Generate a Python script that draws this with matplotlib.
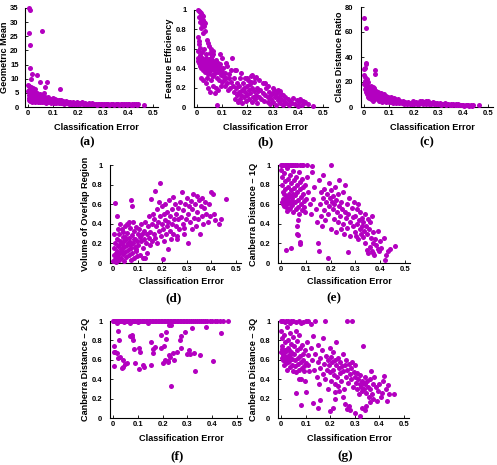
import matplotlib
matplotlib.use("Agg")
import matplotlib.pyplot as plt

W, H = 497, 465
COLOR = "#B300C0"

x_ticks = [0, 0.1, 0.2, 0.3, 0.4, 0.5]
x_tick_labels = ["0", "0.1", "0.2", "0.3", "0.4", "0.5"]
x_label = "Classification Error"

a_ticks = [0, 5, 10, 15, 20, 25, 30, 35]
a_tick_labels = ["0", "5", "10", "15", "20", "25", "30", "35"]
c_ticks = [0, 20, 40, 60, 80]
c_tick_labels = ["0", "20", "40", "60", "80"]
unit_ticks = [0, 0.2, 0.4, 0.6, 0.8, 1.0]
unit_tick_labels = ["0", "0.2", "0.4", "0.6", "0.8", "1"]

y_labels = {
    "a": "Geometric Mean",
    "b": "Feature Efficiency",
    "c": "Class Distance Ratio",
    "d": "Volume of Overlap Region",
    "e": "Canberra Distance \u2013 1Q",
    "f": "Canberra Distance \u2013 2Q",
    "g": "Canberra Distance \u2013 3Q",
}
panel_letters = ["(a)", "(b)", "(c)", "(d)", "(e)", "(f)", "(g)"]

# (a) Geometric Mean vs classification error
a_pts = [
    (0.004, 35), (0.009, 34.2), (0.004, 26), (0.008, 21.8), (0.057, 26.8), (0.007, 13.8),
    (0.013, 10), (0.017, 11.8), (0.037, 11.2), (0.047, 8.7), (0.077, 8.7), (0.067, 7.1),
    (0.128, 6.5), (0.0, 7.9), (0.01, 6.6), (0.027, 6.4), (0.063, 4.9), (0.464, 0.8),
    (0.003, 7.5), (0.012, 7.2), (0.018, 6.8),
    (0.000, 5.5), (0.002, 4.2), (0.003, 3.1), (0.004, 6.0), (0.005, 2.5), (0.006, 4.8),
    (0.007, 3.6), (0.008, 2.0), (0.009, 5.2), (0.010, 3.0), (0.011, 4.4), (0.012, 2.4),
    (0.013, 6.2), (0.014, 3.7), (0.015, 1.8), (0.016, 5.0), (0.018, 2.9), (0.019, 4.1),
    (0.020, 3.3), (0.021, 2.2), (0.022, 5.6), (0.024, 3.9), (0.025, 2.6), (0.026, 4.6),
    (0.028, 1.9), (0.029, 3.4), (0.030, 2.8), (0.032, 4.3), (0.033, 2.1), (0.034, 3.6),
    (0.036, 5.1), (0.037, 2.5), (0.038, 3.0), (0.040, 4.0), (0.041, 1.7), (0.042, 2.7),
    (0.044, 3.5), (0.045, 2.3), (0.046, 4.6), (0.048, 3.1), (0.049, 1.9), (0.050, 2.6),
    (0.052, 3.8), (0.053, 2.2), (0.055, 3.0), (0.056, 1.8), (0.058, 4.2), (0.060, 2.5),
    (0.061, 3.4), (0.063, 1.6), (0.064, 2.9), (0.066, 3.7), (0.067, 2.1), (0.069, 2.7),
    (0.070, 1.5), (0.072, 3.2), (0.073, 2.4), (0.075, 1.9), (0.076, 2.8), (0.078, 3.5),
    (0.080, 2.2), (0.081, 1.6), (0.083, 2.6), (0.085, 3.0), (0.086, 1.8), (0.088, 2.3),
    (0.090, 2.9), (0.092, 1.5), (0.093, 2.1), (0.095, 2.6), (0.097, 1.7), (0.098, 3.1),
    (0.100, 2.0), (0.102, 2.4), (0.104, 1.5), (0.106, 2.8), (0.108, 1.9), (0.110, 2.2),
    (0.112, 1.4), (0.114, 2.6), (0.116, 1.8), (0.118, 2.1), (0.120, 1.6), (0.122, 2.4),
    (0.124, 1.3), (0.126, 2.0), (0.128, 1.7), (0.130, 2.3), (0.133, 1.5), (0.135, 1.9),
    (0.137, 1.3), (0.140, 2.1), (0.142, 1.6), (0.145, 1.2), (0.147, 1.8), (0.150, 1.4),
    (0.153, 2.0), (0.156, 1.3), (0.159, 1.7), (0.162, 1.1), (0.165, 1.5), (0.168, 1.9),
    (0.171, 1.2), (0.174, 1.4), (0.177, 1.0), (0.180, 1.6), (0.183, 1.2), (0.186, 1.4),
    (0.190, 1.0), (0.193, 1.3), (0.196, 1.7), (0.200, 1.1), (0.203, 1.4), (0.206, 0.9),
    (0.210, 1.3), (0.214, 1.6), (0.218, 1.0), (0.222, 1.2), (0.226, 1.5), (0.230, 0.9),
    (0.234, 1.2), (0.238, 1.0), (0.242, 1.3), (0.246, 0.9), (0.250, 1.1), (0.255, 1.3),
    (0.260, 0.9), (0.265, 1.1), (0.270, 1.2), (0.275, 0.8), (0.280, 1.0), (0.285, 1.2),
    (0.290, 0.9), (0.295, 1.1), (0.300, 0.8), (0.305, 1.0), (0.310, 1.2), (0.315, 0.9),
    (0.320, 1.0), (0.325, 0.8), (0.330, 1.1), (0.335, 0.9), (0.340, 1.0), (0.345, 0.8),
    (0.350, 1.0), (0.355, 0.9), (0.360, 1.1), (0.365, 0.8), (0.370, 0.9), (0.375, 1.0),
    (0.380, 0.8), (0.385, 0.9), (0.390, 1.0), (0.395, 0.8), (0.400, 0.9), (0.405, 1.0),
    (0.410, 0.8), (0.415, 0.9), (0.420, 0.8), (0.425, 1.0), (0.430, 0.9), (0.435, 0.8),
    (0.440, 0.9),
]

# (b) Feature Efficiency
b_pts = [
    (0.003, 1.0), (0.007, 0.99), (0.011, 0.98), (0.014, 0.97), (0.018, 0.95), (0.022, 0.94),
    (0.009, 0.93), (0.016, 0.91), (0.024, 0.9), (0.013, 0.88), (0.028, 0.88), (0.033, 0.87),
    (0.020, 0.86), (0.026, 0.83), (0.017, 0.81), (0.030, 0.78), (0.022, 0.76),
    (0.005, 0.72), (0.008, 0.68), (0.006, 0.65), (0.012, 0.61), (0.004, 0.58), (0.018, 0.57),
    (0.010, 0.54), (0.038, 0.69), (0.042, 0.66), (0.046, 0.63), (0.055, 0.6), (0.062, 0.58),
    (0.050, 0.56), (0.065, 0.55), (0.058, 0.53), (0.035, 0.55), (0.028, 0.6),
    (0.002, 0.5), (0.004, 0.47), (0.006, 0.45), (0.008, 0.49), (0.010, 0.42), (0.012, 0.48),
    (0.014, 0.44), (0.016, 0.4), (0.018, 0.5), (0.020, 0.46), (0.022, 0.43), (0.024, 0.38),
    (0.026, 0.48), (0.028, 0.41), (0.030, 0.45), (0.032, 0.36), (0.034, 0.5), (0.036, 0.43),
    (0.038, 0.47), (0.040, 0.39), (0.042, 0.44), (0.044, 0.34), (0.046, 0.49), (0.048, 0.41),
    (0.050, 0.46), (0.052, 0.37), (0.054, 0.43), (0.056, 0.5), (0.058, 0.4), (0.060, 0.45),
    (0.062, 0.32), (0.064, 0.47), (0.066, 0.42), (0.068, 0.38), (0.070, 0.44), (0.072, 0.35),
    (0.074, 0.41), (0.076, 0.48), (0.078, 0.3), (0.080, 0.4), (0.082, 0.45), (0.084, 0.36),
    (0.086, 0.42), (0.088, 0.28), (0.090, 0.38), (0.092, 0.44), (0.094, 0.33), (0.096, 0.4),
    (0.098, 0.26), (0.100, 0.36),
    (0.015, 0.3), (0.025, 0.28), (0.035, 0.25), (0.045, 0.2), (0.05, 0.15), (0.055, 0.28),
    (0.065, 0.22), (0.07, 0.14), (0.075, 0.2), (0.08, 0.02), (0.085, 0.18), (0.095, 0.22),
    (0.06, 0.33), (0.04, 0.3),
    (0.102, 0.32), (0.105, 0.4), (0.108, 0.28), (0.11, 0.35), (0.112, 0.22), (0.115, 0.3),
    (0.118, 0.42), (0.12, 0.25), (0.122, 0.18), (0.125, 0.34), (0.128, 0.3), (0.13, 0.2),
    (0.133, 0.26), (0.136, 0.38), (0.14, 0.5), (0.142, 0.22), (0.145, 0.3), (0.148, 0.15),
    (0.15, 0.38), (0.1, 0.5), (0.09, 0.55), (0.115, 0.45),
    (0.152, 0.08), (0.155, 0.2), (0.158, 0.12), (0.16, 0.25), (0.162, 0.05), (0.165, 0.15),
    (0.168, 0.22), (0.17, 0.08), (0.172, 0.3), (0.175, 0.12), (0.178, 0.18), (0.18, 0.04),
    (0.182, 0.25), (0.185, 0.1), (0.188, 0.2), (0.19, 0.15), (0.192, 0.3), (0.195, 0.06),
    (0.198, 0.22), (0.2, 0.12), (0.202, 0.28), (0.205, 0.18), (0.208, 0.08), (0.21, 0.24),
    (0.212, 0.14), (0.215, 0.32), (0.218, 0.05), (0.22, 0.2), (0.222, 0.1), (0.225, 0.16),
    (0.228, 0.26), (0.23, 0.08), (0.232, 0.3), (0.235, 0.12), (0.238, 0.2), (0.24, 0.04),
    (0.242, 0.16), (0.245, 0.28), (0.248, 0.1), (0.25, 0.18), (0.255, 0.08), (0.26, 0.14),
    (0.262, 0.25), (0.265, 0.06), (0.27, 0.12), (0.275, 0.2), (0.28, 0.05), (0.282, 0.1),
    (0.285, 0.15), (0.29, 0.03), (0.292, 0.12), (0.295, 0.08), (0.3, 0.14), (0.302, 0.05),
    (0.305, 0.18), (0.31, 0.1), (0.312, 0.02), (0.315, 0.13), (0.32, 0.07), (0.322, 0.16),
    (0.325, 0.1), (0.33, 0.04), (0.332, 0.13), (0.335, 0.08), (0.34, 0.12), (0.342, 0.02),
    (0.345, 0.06), (0.35, 0.1), (0.355, 0.04), (0.36, 0.08), (0.365, 0.02), (0.37, 0.06),
    (0.375, 0.04), (0.38, 0.09), (0.39, 0.03), (0.395, 0.07), (0.4, 0.01), (0.405, 0.05),
    (0.41, 0.08), (0.415, 0.02), (0.42, 0.06), (0.425, 0.04), (0.43, 0.05), (0.44, 0.03),
    (0.46, 0.01),
    (0.155, 0.38), (0.175, 0.35), (0.2, 0.3), (0.22, 0.33), (0.235, 0.31), (0.27, 0.25),
    (0.215, 0.26), (0.28, 0.22), (0.3, 0.2), (0.32, 0.18), (0.33, 0.17),
]

# (c) Class Distance Ratio
c_pts = [
    (0.002, 71.5), (0.01, 63.5), (0.01, 35), (0.008, 34), (0.004, 31), (0.002, 30),
    (0.046, 29.5), (0.045, 26), (0.001, 25.5), (0.006, 24), (0.012, 22), (0.016, 20),
    (0.03, 17), (0.035, 16), (0.04, 15),
    (0.002, 18), (0.004, 14), (0.005, 21), (0.007, 12), (0.008, 16), (0.010, 19),
    (0.011, 10), (0.013, 15), (0.014, 13), (0.016, 8), (0.018, 17), (0.019, 11),
    (0.021, 14), (0.022, 7), (0.024, 12), (0.026, 9), (0.027, 15), (0.029, 6),
    (0.031, 11), (0.032, 13), (0.034, 8), (0.036, 10), (0.037, 5), (0.039, 12),
    (0.041, 9), (0.042, 14), (0.044, 7), (0.046, 11), (0.048, 8), (0.049, 13),
    (0.051, 10), (0.053, 6), (0.055, 9), (0.057, 12), (0.059, 7), (0.061, 5),
    (0.063, 10), (0.065, 8), (0.067, 11), (0.069, 6), (0.071, 9), (0.073, 4),
    (0.075, 8), (0.077, 7), (0.079, 10), (0.081, 5), (0.083, 8), (0.085, 6),
    (0.087, 9), (0.089, 4), (0.091, 7), (0.093, 5), (0.095, 8), (0.097, 6), (0.099, 4),
    (0.101, 7), (0.104, 5), (0.107, 8), (0.110, 4), (0.112, 6), (0.115, 3),
    (0.118, 5), (0.121, 7), (0.124, 4), (0.127, 6), (0.130, 3), (0.133, 5),
    (0.136, 4), (0.139, 6), (0.142, 3), (0.145, 5), (0.148, 4),
    (0.152, 3), (0.156, 5), (0.16, 2.5), (0.164, 4), (0.168, 3), (0.172, 2),
    (0.176, 4), (0.18, 3), (0.184, 2), (0.188, 3.5), (0.192, 2.5), (0.196, 4.5),
    (0.2, 2), (0.204, 3), (0.208, 4), (0.212, 2.5), (0.216, 3.5), (0.22, 2),
    (0.224, 4.5), (0.228, 3), (0.232, 5), (0.236, 2.5), (0.24, 4), (0.244, 3),
    (0.248, 5), (0.252, 2), (0.256, 3.5), (0.26, 4.5), (0.264, 2.5), (0.268, 3.5),
    (0.272, 2), (0.276, 3), (0.28, 4), (0.284, 2), (0.288, 3), (0.292, 2.5), (0.296, 3.5),
    (0.3, 2), (0.305, 3), (0.31, 1.5), (0.315, 2.5), (0.32, 2), (0.325, 3),
    (0.33, 1.5), (0.335, 2.5), (0.34, 2), (0.345, 1.5), (0.35, 2.5), (0.355, 1.8),
    (0.36, 2.2), (0.365, 1.5), (0.37, 2), (0.375, 1.2), (0.38, 2), (0.385, 1.5),
    (0.39, 1.8), (0.395, 1.2), (0.4, 1.6), (0.405, 1), (0.41, 1.8), (0.415, 1.2),
    (0.42, 1.5), (0.425, 1), (0.43, 1.4), (0.435, 0.8), (0.44, 1.2), (0.462, 1.5),
]

# (d) Volume of Overlap Region
d_pts = [
    (0.002, 0.02), (0.004, 0.08), (0.006, 0.15), (0.008, 0.04), (0.010, 0.2), (0.012, 0.1),
    (0.014, 0.01), (0.016, 0.12), (0.018, 0.25), (0.020, 0.06), (0.022, 0.17), (0.024, 0.3),
    (0.026, 0.03), (0.028, 0.1), (0.030, 0.22), (0.032, 0.14), (0.034, 0.05), (0.036, 0.35),
    (0.038, 0.19), (0.040, 0.09), (0.042, 0.27), (0.044, 0.02), (0.046, 0.16), (0.048, 0.38),
    (0.050, 0.11), (0.052, 0.24), (0.054, 0.06), (0.056, 0.31), (0.058, 0.18), (0.060, 0.4),
    (0.062, 0.13), (0.064, 0.26), (0.066, 0.08), (0.068, 0.21), (0.070, 0.36), (0.072, 0.03),
    (0.074, 0.15), (0.076, 0.29), (0.078, 0.1), (0.080, 0.42), (0.082, 0.2), (0.084, 0.05),
    (0.086, 0.33), (0.088, 0.16), (0.090, 0.25), (0.092, 0.12), (0.094, 0.37), (0.096, 0.22),
    (0.098, 0.07), (0.100, 0.3),
    (0.005, 0.3), (0.01, 0.61), (0.015, 0.48), (0.02, 0.35), (0.03, 0.4), (0.04, 0.32),
    (0.05, 0.27), (0.06, 0.2), (0.07, 0.18), (0.075, 0.64), (0.078, 0.58), (0.065, 0.42),
    (0.055, 0.4), (0.045, 0.22), (0.025, 0.18), (0.015, 0.08), (0.035, 0.12), (0.085, 0.24),
    (0.095, 0.14),
    (0.102, 0.18), (0.105, 0.35), (0.108, 0.27), (0.11, 0.08), (0.112, 0.4), (0.115, 0.22),
    (0.118, 0.3), (0.12, 0.05), (0.122, 0.15), (0.125, 0.33), (0.128, 0.25), (0.13, 0.05),
    (0.132, 0.42), (0.135, 0.2), (0.138, 0.3), (0.14, 0.1), (0.142, 0.38), (0.145, 0.26),
    (0.148, 0.48), (0.15, 0.18), (0.152, 0.32), (0.155, 0.65), (0.158, 0.4), (0.16, 0.22),
    (0.162, 0.5), (0.165, 0.3), (0.168, 0.45), (0.17, 0.73), (0.172, 0.26), (0.175, 0.38),
    (0.178, 0.55), (0.18, 0.2), (0.182, 0.42), (0.185, 0.62), (0.188, 0.33), (0.19, 0.82),
    (0.192, 0.48), (0.195, 0.28), (0.198, 0.4), (0.2, 0.58), (0.202, 0.04), (0.204, 0.35),
    (0.206, 0.5), (0.208, 0.22), (0.21, 0.44), (0.212, 0.6), (0.215, 0.3), (0.218, 0.38),
    (0.22, 0.52), (0.222, 0.14), (0.225, 0.42), (0.228, 0.64), (0.23, 0.33), (0.232, 0.48),
    (0.235, 0.25), (0.238, 0.55), (0.24, 0.4), (0.242, 0.67), (0.245, 0.3), (0.248, 0.45),
    (0.25, 0.6),
    (0.255, 0.38), (0.258, 0.5), (0.26, 0.28), (0.263, 0.45), (0.266, 0.56), (0.27, 0.35),
    (0.273, 0.62), (0.276, 0.47), (0.28, 0.72), (0.283, 0.4), (0.286, 0.54), (0.29, 0.3),
    (0.293, 0.6), (0.296, 0.45), (0.3, 0.66), (0.303, 0.2), (0.306, 0.5), (0.31, 0.58),
    (0.313, 0.42), (0.316, 0.63), (0.32, 0.35), (0.323, 0.55), (0.326, 0.7), (0.33, 0.46),
    (0.333, 0.6), (0.336, 0.38), (0.34, 0.68), (0.343, 0.52), (0.346, 0.45), (0.35, 0.64),
    (0.353, 0.3), (0.356, 0.58), (0.36, 0.48), (0.363, 0.66), (0.366, 0.4), (0.37, 0.56),
    (0.375, 0.62), (0.38, 0.5), (0.385, 0.42), (0.39, 0.6), (0.395, 0.48), (0.4, 0.72),
    (0.405, 0.7), (0.41, 0.5), (0.415, 0.44), (0.43, 0.4), (0.44, 0.45), (0.46, 0.65),
    (0.26, 0.24), (0.29, 0.36),
]

# (e) Canberra Distance - 1Q
e_pts = [
    (0.0, 1), (0.005, 1), (0.01, 1), (0.015, 1), (0.02, 1), (0.025, 1), (0.03, 1),
    (0.035, 1), (0.04, 1), (0.045, 1), (0.05, 1), (0.055, 1), (0.065, 1), (0.075, 1),
    (0.085, 1), (0.09, 1), (0.105, 1), (0.125, 0.99), (0.2, 1.0),
    (0.002, 0.95), (0.004, 0.88), (0.006, 0.8), (0.008, 0.72), (0.010, 0.65), (0.012, 0.58),
    (0.014, 0.92), (0.016, 0.84), (0.018, 0.76), (0.020, 0.68), (0.022, 0.6), (0.024, 0.53),
    (0.026, 0.97), (0.028, 0.86), (0.030, 0.78), (0.032, 0.7), (0.034, 0.63), (0.036, 0.56),
    (0.038, 0.9), (0.040, 0.82), (0.042, 0.74), (0.044, 0.66), (0.046, 0.59), (0.048, 0.52),
    (0.050, 0.94), (0.052, 0.85), (0.054, 0.77), (0.056, 0.69), (0.058, 0.62), (0.060, 0.55),
    (0.062, 0.88), (0.064, 0.8), (0.066, 0.72), (0.068, 0.64), (0.070, 0.57), (0.072, 0.5),
    (0.074, 0.93), (0.076, 0.83), (0.078, 0.75), (0.080, 0.67), (0.082, 0.6), (0.084, 0.54),
    (0.086, 0.86), (0.088, 0.78), (0.090, 0.7), (0.092, 0.63), (0.094, 0.57), (0.096, 0.52),
    (0.098, 0.8), (0.100, 0.65),
    (0.003, 0.62), (0.007, 0.6), (0.011, 0.7), (0.015, 0.64), (0.019, 0.57), (0.023, 0.66),
    (0.027, 0.61), (0.031, 0.55), (0.035, 0.68), (0.039, 0.6), (0.043, 0.63), (0.047, 0.7),
    (0.02, 0.13), (0.04, 0.15), (0.065, 0.3), (0.07, 0.29), (0.075, 0.21), (0.078, 0.19),
    (0.07, 0.44), (0.065, 0.38),
    (0.105, 0.88), (0.11, 0.72), (0.115, 0.6), (0.12, 0.5), (0.125, 0.93), (0.13, 0.65),
    (0.135, 0.78), (0.14, 0.55), (0.145, 0.42), (0.15, 0.2), (0.152, 0.12), (0.155, 0.85),
    (0.158, 0.6), (0.16, 0.72), (0.162, 0.48), (0.165, 0.38), (0.168, 0.66), (0.17, 0.9),
    (0.172, 0.54), (0.175, 0.76), (0.178, 0.44), (0.18, 0.62), (0.185, 0.7), (0.19, 0.05),
    (0.19, 0.5), (0.192, 0.82), (0.195, 0.58), (0.198, 0.66), (0.2, 0.74), (0.202, 0.35),
    (0.205, 0.62), (0.208, 0.55), (0.21, 0.68), (0.212, 0.45), (0.215, 0.6), (0.218, 0.78),
    (0.22, 0.32), (0.222, 0.64), (0.225, 0.52), (0.228, 0.7), (0.23, 0.42), (0.232, 0.58),
    (0.235, 0.85), (0.238, 0.48), (0.24, 0.62), (0.242, 0.35), (0.245, 0.55), (0.248, 0.4),
    (0.25, 0.72), (0.255, 0.3), (0.258, 0.52), (0.26, 0.8), (0.262, 0.46), (0.265, 0.6),
    (0.268, 0.36), (0.27, 0.11), (0.272, 0.5), (0.275, 0.66), (0.278, 0.42), (0.28, 0.28),
    (0.285, 0.56), (0.29, 0.38), (0.292, 0.47), (0.295, 0.62), (0.298, 0.32), (0.3, 0.48),
    (0.302, 0.28), (0.305, 0.55), (0.308, 0.4), (0.31, 0.6), (0.312, 0.25), (0.315, 0.44),
    (0.318, 0.35), (0.32, 0.52), (0.322, 0.3), (0.325, 0.46), (0.328, 0.38), (0.33, 0.27),
    (0.332, 0.42), (0.335, 0.33), (0.338, 0.5), (0.34, 0.2), (0.342, 0.38), (0.345, 0.13),
    (0.348, 0.3), (0.35, 0.45), (0.352, 0.1), (0.355, 0.35), (0.358, 0.16), (0.36, 0.42),
    (0.362, 0.26), (0.365, 0.12), (0.368, 0.48), (0.37, 0.2), (0.372, 0.32), (0.375, 0.08),
    (0.38, 0.25), (0.385, 0.18), (0.39, 0.33), (0.395, 0.12), (0.4, 0.22), (0.405, 0.15),
    (0.415, 0.26), (0.42, 0.03), (0.425, 0.08), (0.43, 0.12), (0.44, 0.14), (0.46, 0.17),
    (0.39, 0.14), (0.37, 0.1),
]

# (f) Canberra Distance - 2Q : many datasets sit at exactly 1
f_top_x = [
    0.000, 0.003, 0.006, 0.009, 0.012, 0.015, 0.018, 0.021, 0.024, 0.027, 0.030, 0.034,
    0.038, 0.042, 0.046, 0.050, 0.054, 0.058, 0.062, 0.066, 0.070, 0.075, 0.080, 0.085,
    0.090, 0.095, 0.100, 0.105, 0.110, 0.115, 0.120, 0.126, 0.132, 0.138, 0.144, 0.150,
    0.156, 0.162, 0.168, 0.174, 0.180, 0.186, 0.192, 0.198, 0.204, 0.210, 0.216, 0.222,
    0.228, 0.234, 0.240, 0.246, 0.252, 0.258, 0.264, 0.270, 0.276, 0.282, 0.288, 0.294,
    0.300, 0.308, 0.316, 0.324, 0.332, 0.340, 0.348, 0.356, 0.364, 0.372, 0.380, 0.390,
    0.400, 0.410, 0.420, 0.432, 0.445, 0.462,
]
f_top_y = [1.0] * len(f_top_x)
f_pts = [
    (0.003, 0.74), (0.006, 0.68), (0.01, 0.68), (0.015, 0.67), (0.005, 0.54), (0.02, 0.62),
    (0.02, 0.9), (0.025, 0.8), (0.03, 0.63), (0.035, 0.52), (0.04, 0.53), (0.04, 0.6),
    (0.05, 0.56), (0.055, 0.57), (0.07, 0.85), (0.075, 0.86), (0.075, 0.83), (0.08, 0.8),
    (0.085, 0.71), (0.09, 0.57), (0.07, 0.98), (0.105, 0.72), (0.11, 0.68), (0.105, 0.51),
    (0.12, 0.55), (0.125, 0.53), (0.155, 0.78), (0.16, 0.67), (0.16, 0.71), (0.155, 0.55),
    (0.17, 0.73), (0.195, 0.86), (0.195, 0.72), (0.2, 0.57), (0.205, 0.74), (0.21, 0.6),
    (0.215, 0.89), (0.215, 0.81), (0.22, 0.58), (0.225, 0.65), (0.23, 0.63), (0.225, 0.96),
    (0.235, 0.96), (0.24, 0.67), (0.235, 0.33), (0.245, 0.6), (0.26, 0.68), (0.27, 0.8),
    (0.275, 0.85), (0.275, 0.72), (0.29, 0.89), (0.3, 0.66), (0.305, 0.7), (0.31, 0.66),
    (0.32, 0.93), (0.325, 0.67), (0.33, 0.48), (0.35, 0.65), (0.375, 0.94), (0.405, 0.59),
    (0.435, 0.88), (0.22, 0.59), (0.015, 0.98), (0.045, 0.99), (0.1, 0.99), (0.14, 0.98),
]

# (g) Canberra Distance - 3Q
g_pts = [
    (0.0, 1), (0.005, 1), (0.01, 1), (0.015, 0.99), (0.02, 1), (0.03, 1), (0.04, 1),
    (0.05, 1), (0.06, 0.99), (0.075, 1), (0.09, 0.99), (0.1, 1), (0.11, 1), (0.14, 1),
    (0.18, 1), (0.27, 1), (0.29, 1), (0.035, 0.98), (0.08, 0.98), (0.12, 0.97),
    (0.002, 0.9), (0.004, 0.82), (0.006, 0.74), (0.008, 0.66), (0.010, 0.6), (0.012, 0.55),
    (0.014, 0.86), (0.016, 0.78), (0.018, 0.7), (0.020, 0.63), (0.022, 0.57), (0.024, 0.5),
    (0.026, 0.94), (0.028, 0.8), (0.030, 0.72), (0.032, 0.65), (0.034, 0.59), (0.036, 0.53),
    (0.038, 0.88), (0.040, 0.76), (0.042, 0.68), (0.044, 0.61), (0.046, 0.55), (0.048, 0.48),
    (0.050, 0.84), (0.052, 0.74), (0.054, 0.66), (0.056, 0.6), (0.058, 0.54), (0.060, 0.47),
    (0.062, 0.9), (0.064, 0.79), (0.066, 0.7), (0.068, 0.62), (0.070, 0.56), (0.072, 0.5),
    (0.074, 0.86), (0.076, 0.72), (0.078, 0.64), (0.080, 0.58), (0.082, 0.4), (0.084, 0.52),
    (0.086, 0.75), (0.088, 0.66), (0.090, 0.6), (0.092, 0.54), (0.094, 0.48), (0.096, 0.38),
    (0.098, 0.7), (0.100, 0.57),
    (0.001, 0.68), (0.003, 0.62), (0.005, 0.71), (0.009, 0.64), (0.013, 0.67), (0.017, 0.6),
    (0.021, 0.69), (0.025, 0.63), (0.029, 0.58), (0.033, 0.7), (0.037, 0.62), (0.041, 0.66),
    (0.06, 0.26), (0.08, 0.13), (0.075, 0.4), (0.1, 0.27), (0.13, 0.15), (0.15, 0.1),
    (0.16, 0.19), (0.2, 0.07), (0.21, 0.1), (0.22, 0.2), (0.22, 0.27), (0.3, 0.05),
    (0.32, 0.02), (0.33, 0.1), (0.34, 0.08), (0.28, 0.08), (0.27, 0.09),
    (0.105, 0.78), (0.108, 0.65), (0.11, 0.55), (0.115, 0.48), (0.12, 0.72), (0.125, 0.6),
    (0.13, 0.85), (0.135, 0.5), (0.14, 0.66), (0.145, 0.42), (0.15, 0.58), (0.152, 0.75),
    (0.155, 0.35), (0.158, 0.62), (0.16, 0.52), (0.165, 0.7), (0.17, 0.45), (0.172, 0.82),
    (0.175, 0.56), (0.18, 0.4), (0.182, 0.64), (0.185, 0.5), (0.19, 0.6), (0.192, 0.3),
    (0.195, 0.55), (0.198, 0.72), (0.2, 0.47), (0.202, 0.63), (0.205, 0.38), (0.208, 0.58),
    (0.21, 0.68), (0.212, 0.5), (0.215, 0.44), (0.218, 0.6), (0.22, 0.35), (0.222, 0.55),
    (0.225, 0.78), (0.228, 0.42), (0.23, 0.62), (0.232, 0.33), (0.235, 0.52), (0.238, 0.46),
    (0.24, 0.58), (0.243, 0.38), (0.246, 0.54), (0.25, 0.66), (0.253, 0.48), (0.256, 0.3),
    (0.26, 0.55), (0.263, 0.42), (0.266, 0.6), (0.27, 0.5), (0.273, 0.36), (0.276, 0.56),
    (0.28, 0.45), (0.283, 0.52), (0.286, 0.4), (0.29, 0.58), (0.293, 0.32), (0.296, 0.47),
    (0.3, 0.42), (0.235, 0.28), (0.25, 0.22), (0.26, 0.14), (0.275, 0.12),
    (0.302, 0.55), (0.305, 0.36), (0.308, 0.46), (0.31, 0.3), (0.313, 0.4), (0.316, 0.25),
    (0.32, 0.35), (0.322, 0.44), (0.325, 0.32), (0.328, 0.38), (0.33, 0.28), (0.333, 0.36),
    (0.335, 0.74), (0.338, 0.3), (0.34, 0.42), (0.343, 0.35), (0.346, 0.26), (0.35, 0.38),
    (0.353, 0.32), (0.356, 0.22), (0.36, 0.4), (0.363, 0.3), (0.366, 0.48), (0.37, 0.25),
    (0.373, 0.35), (0.376, 0.2), (0.38, 0.42), (0.385, 0.32), (0.39, 0.18), (0.395, 0.28),
    (0.4, 0.35), (0.405, 0.22), (0.41, 0.26), (0.415, 0.38), (0.42, 0.43), (0.425, 0.3),
    (0.43, 0.18), (0.435, 0.34), (0.44, 0.25), (0.46, 0.25), (0.345, 0.12), (0.36, 0.16),
]

SANS = ["Liberation Sans", "DejaVu Sans"]
SERIF = ["Liberation Serif", "DejaVu Serif"]

fig = plt.figure(figsize=(W / 100, H / 100), dpi=100)
XLIM = (-0.012, 0.52)


def fx(px):
    return px / W


def fy(py):
    return 1 - py / H


def make_panel(key, x0px, x05px, ytop_px, y0px, ytop, yticks, yticklabels,
               ylabel_x, xlabel_cx, xlabel_y, letter, letter_cx, letter_y, series,
               ypad=5.5):
    scale = (x05px - x0px) / 0.5
    left = x0px + XLIM[0] * scale
    right = x0px + XLIM[1] * scale
    ax = fig.add_axes([fx(left), fy(y0px), (right - left) / W, (y0px - ytop_px) / H])
    for xs, ys in series:
        ax.scatter(xs, ys, s=13, color=COLOR, linewidths=0, clip_on=False, zorder=3)
    ax.set_xlim(*XLIM)
    ax.set_ylim(0, ytop)
    ax.set_xticks(x_ticks)
    ax.set_xticklabels(x_tick_labels)
    ax.set_yticks(yticks)
    ax.set_yticklabels(yticklabels)
    for s in ("top", "right"):
        ax.spines[s].set_visible(False)
    for s in ("left", "bottom"):
        ax.spines[s].set_linewidth(0.8)
    ax.tick_params(direction="in", length=2.5, width=0.6, labelsize=5.5, pad=2.5)
    ax.tick_params(axis="y", pad=ypad)
    for lab in ax.get_xticklabels() + ax.get_yticklabels():
        lab.set_fontweight("bold")
        lab.set_family(SANS)
    ax.patch.set_alpha(0)
    fig.text(fx(ylabel_x), fy((ytop_px + y0px) / 2), y_labels[key], rotation=90,
             ha="center", va="center", fontsize=6.6, fontweight="bold", family=SANS)
    fig.text(fx(xlabel_cx), fy(xlabel_y), x_label, ha="center", va="center",
             fontsize=6.6, fontweight="bold", family=SANS)
    fig.text(fx(letter_cx), fy(letter_y), letter, ha="center", va="center",
             fontsize=9.5, fontweight="bold", family=SERIF)
    return ax


def xy(pts):
    return [p[0] for p in pts], [p[1] for p in pts]


make_panel("a", 28, 153, 8, 107, 35, a_ticks, a_tick_labels, 4.5, 96, 127,
           panel_letters[0], 87, 142, [xy(a_pts)], ypad=4.5)
make_panel("b", 197, 323, 10, 107, 1.0, unit_ticks, unit_tick_labels, 170, 265, 127,
           panel_letters[1], 265, 142, [xy(b_pts)])
make_panel("c", 364, 488, 7, 107, 80, c_ticks, c_tick_labels, 339, 432, 127,
           panel_letters[2], 427, 142, [xy(c_pts)])
make_panel("d", 113, 236, 165, 263, 1.0, unit_ticks, unit_tick_labels, 85, 181, 282,
           panel_letters[3], 174, 298, [xy(d_pts)])
make_panel("e", 281, 405, 165, 263, 1.0, unit_ticks, unit_tick_labels, 253, 349, 282,
           panel_letters[4], 334, 298, [xy(e_pts)])
make_panel("f", 113, 237, 321, 418, 1.0, unit_ticks, unit_tick_labels, 85, 181, 438,
           panel_letters[5], 177, 456, [(f_top_x, f_top_y), xy(f_pts)])
make_panel("g", 281, 404, 321, 418, 1.0, unit_ticks, unit_tick_labels, 253, 349, 438,
           panel_letters[6], 345, 456, [xy(g_pts)])

fig.savefig("out.png", dpi=100)
